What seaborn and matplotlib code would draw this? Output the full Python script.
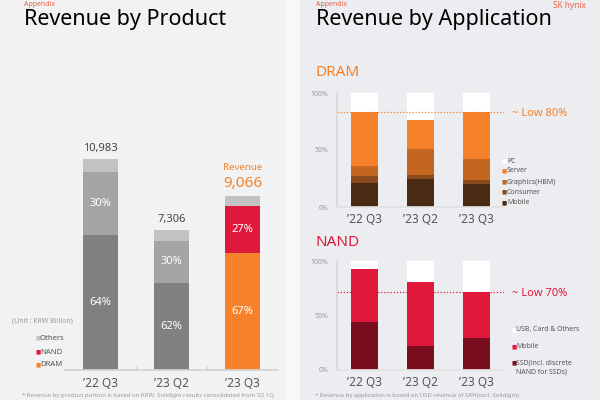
import matplotlib
matplotlib.use("Agg")
import matplotlib.pyplot as plt
import seaborn as sns
from matplotlib.patches import Rectangle

# ---- data ----
quarters = ["’22 Q3", "’23 Q2", "’23 Q3"]

revenue_total = [10983, 7306, 9066]
dram_share = [64, 62, 67]
nand_share = [30, 30, 27]
others_share = [6, 8, 6]

dram_mobile = [21, 25, 20]
dram_consumer = [6, 3, 4]
dram_graphics = [9, 23, 18]
dram_server = [47, 25, 41]
dram_pc = [17, 24, 17]
dram_guide = 83

nand_ssd = [44, 22, 29]
nand_mobile = [49, 59, 43]
nand_others = [7, 19, 28]
nand_guide = 72

# ---- styling ----
sns.set_theme(style="white")
plt.rcParams["font.family"] = ["Noto Sans", "DejaVu Sans"]

ORANGE = "#F5822A"
RED = "#E0193C"
TEXT = "#555555"
LIGHT = "#999999"

W, H = 600, 400


def fx(px):
    return px / W


def fy(py):
    return 1 - py / H


def stacked(ax, layers, colors):
    """Draw stacked bars by overlaying cumulative heights, tallest first."""
    cum = []
    run = [0] * len(quarters)
    for vals in layers:
        run = [r + v for r, v in zip(run, vals)]
        cum.append(run)
    for heights, cols in reversed(list(zip(cum, colors))):
        sns.barplot(
            x=quarters,
            y=heights,
            hue=quarters,
            palette=cols,
            width=0.49,
            saturation=1,
            legend=False,
            linewidth=0,
            ax=ax,
        )
    return cum


fig = plt.figure(figsize=(6, 4), dpi=100)
fig.patch.set_facecolor("#EDEEF1")

# background panels
bg = fig.add_axes([0, 0, 1, 1])
bg.set_xlim(0, W)
bg.set_ylim(H, 0)
bg.axis("off")
bg.add_patch(Rectangle((0, 0), 300, H, color="#F1F2F4", zorder=0))
bg.add_patch(Rectangle((286, 0), 14, H, color="#F8F8F9", zorder=0))
bg.add_patch(Rectangle((300, 0), 300, H, color="#ECEDF0", zorder=0))

# ---- left: revenue by product ----
ax1 = fig.add_axes([fx(65), 30 / H, 213 / W, 240 / H])
ax1.set_facecolor("none")
layers = [
    [t * p / 100 for t, p in zip(revenue_total, dram_share)],
    [t * p / 100 for t, p in zip(revenue_total, nand_share)],
    [t * p / 100 for t, p in zip(revenue_total, others_share)],
]
colors = [
    ["#808080", "#808080", ORANGE],
    ["#A4A4A4", "#A4A4A4", RED],
    ["#C2C2C2", "#C2C2C2", "#C2C2C2"],
]
cum = stacked(ax1, layers, colors)
ax1.set_xlim(-0.5, 2.5)
ax1.set_ylim(0, 12490)
for s in ["left", "right", "top"]:
    ax1.spines[s].set_visible(False)
ax1.spines["bottom"].set_color("#D2D2D2")
ax1.set_yticks([])
ax1.set_xlabel("")
ax1.set_ylabel("")
ax1.set_xticks([0, 1, 2])
ax1.set_xticklabels(quarters, fontsize=8.5, color=TEXT)
ax1.set_xticks([0.5, 1.5], minor=True)
ax1.tick_params(axis="x", which="major", length=0, pad=5)
ax1.tick_params(axis="x", which="minor", length=3, color="#D2D2D2", direction="in", bottom=True)

for i in range(3):
    lo = 0
    for k, share in enumerate([dram_share[i], nand_share[i]]):
        hi = cum[k][i]
        ax1.text(i, (lo + hi) / 2, f"{share}%", color="white",
                 ha="center", va="center", fontsize=8)
        lo = hi
for i in range(2):
    ax1.text(i, revenue_total[i] + 250, f"{revenue_total[i]:,}", ha="center",
             va="bottom", fontsize=8, color="#444444")
ax1.text(2, revenue_total[2] + 250, f"{revenue_total[2]:,}", ha="center",
         va="bottom", fontsize=11, color=ORANGE)
ax1.text(2, revenue_total[2] + 1250, "Revenue", ha="center",
         va="bottom", fontsize=7, color=ORANGE)

fig.text(fx(12), fy(321), "(Unit : KRW Billion)", fontsize=5, color=LIGHT, va="center")
for label, c, py in [("Others", "#C2C2C2", 338), ("NAND", RED, 352), ("DRAM", ORANGE, 365)]:
    fig.text(fx(35), fy(py), "■", fontsize=4, color=c, va="center")
    fig.text(fx(40), fy(py), label, fontsize=5.5, color=TEXT, va="center")

# ---- right: revenue by application ----
def app_axes(bottom_px, top_px):
    ax = fig.add_axes([fx(337), (H - bottom_px) / H, 167 / W, (bottom_px - top_px) / H])
    ax.set_facecolor("none")
    return ax


ax2 = app_axes(207, 93)
stacked(
    ax2,
    [dram_mobile, dram_consumer, dram_graphics, dram_server, dram_pc],
    [["#4A2A12"] * 3, ["#8A4A1C"] * 3, ["#C4661F"] * 3, [ORANGE] * 3, ["white"] * 3],
)
ax2.axhline(dram_guide, color=ORANGE, linestyle=(0, (1, 1.5)), linewidth=0.9)

ax3 = app_axes(370, 261)
stacked(
    ax3,
    [nand_ssd, nand_mobile, nand_others],
    [["#7A0E1E"] * 3, [RED] * 3, ["white"] * 3],
)
ax3.axhline(nand_guide, color=RED, linestyle=(0, (1, 1.5)), linewidth=0.9)

for ax in (ax2, ax3):
    ax.set_xlim(-0.5, 2.5)
    ax.set_ylim(0, 100)
    for s in ["right", "top"]:
        ax.spines[s].set_visible(False)
    ax.spines["left"].set_color("#D8D8D8")
    ax.spines["bottom"].set_color("#E2E2E2")
    ax.set_xlabel("")
    ax.set_ylabel("")
    ax.set_yticks([0, 50, 100])
    ax.set_yticklabels(["0%", "50%", "100%"], fontsize=5, color=LIGHT)
    ax.set_xticks([0, 1, 2])
    ax.set_xticklabels(quarters, fontsize=8.5, color=TEXT)
    ax.tick_params(length=0)
    ax.tick_params(axis="y", pad=6)
    ax.tick_params(axis="x", pad=4)

fig.text(fx(512), fy(113), "~ Low 80%", fontsize=8, color=ORANGE, va="center")
fig.text(fx(512), fy(293), "~ Low 70%", fontsize=8, color=RED, va="center")

dram_legend = [
    ("PC", "white", 161),
    ("Server", ORANGE, 171),
    ("Graphics(HBM)", "#C4661F", 182),
    ("Consumer", "#8A4A1C", 192),
    ("Mobile", "#4A2A12", 203),
]
for label, c, py in dram_legend:
    fig.text(fx(502), fy(py), "■", fontsize=4, color=c, va="center")
    fig.text(fx(507), fy(py), label, fontsize=5, color=TEXT, va="center")

nand_legend = [
    ("USB, Card & Others", "white", 330),
    ("Mobile", RED, 347),
    ("SSD(incl. discrete", "#7A0E1E", 363),
]
for label, c, py in nand_legend:
    fig.text(fx(511), fy(py), "■", fontsize=4, color=c, va="center")
    fig.text(fx(516), fy(py), label, fontsize=5, color=TEXT, va="center")
fig.text(fx(516), fy(372), "NAND for SSDs)", fontsize=5, color=TEXT, va="center")

# ---- headings and notes ----
fig.text(fx(24), fy(20), "Revenue by Product", fontsize=15.5, color="#000000", va="center")
fig.text(fx(316), fy(20), "Revenue by Application", fontsize=15.5, color="#000000", va="center")
fig.text(fx(24), fy(0.5), "Appendix", fontsize=5, color="#E8604A", va="top")
fig.text(fx(316), fy(0.5), "Appendix", fontsize=5, color="#E8604A", va="top")
fig.text(fx(553), fy(0.5), "SK hynix", fontsize=6, color="#E8604A", va="top", fontweight="bold")
fig.text(fx(316), fy(73), "DRAM", fontsize=11, color=ORANGE, va="center")
fig.text(fx(316), fy(242), "NAND", fontsize=11, color=RED, va="center")

fig.text(fx(22), fy(396), "* Revenue by product portion is based on KRW, Solidigm results consolidated from ’22 1Q",
         fontsize=4.3, color=LIGHT, va="center")
fig.text(fx(315), fy(396), "* Revenue by application is based on USD revenue of SKH(excl. Solidigm)",
         fontsize=4.3, color=LIGHT, va="center")

fig.savefig("out.png", dpi=100)
plt.close(fig)
